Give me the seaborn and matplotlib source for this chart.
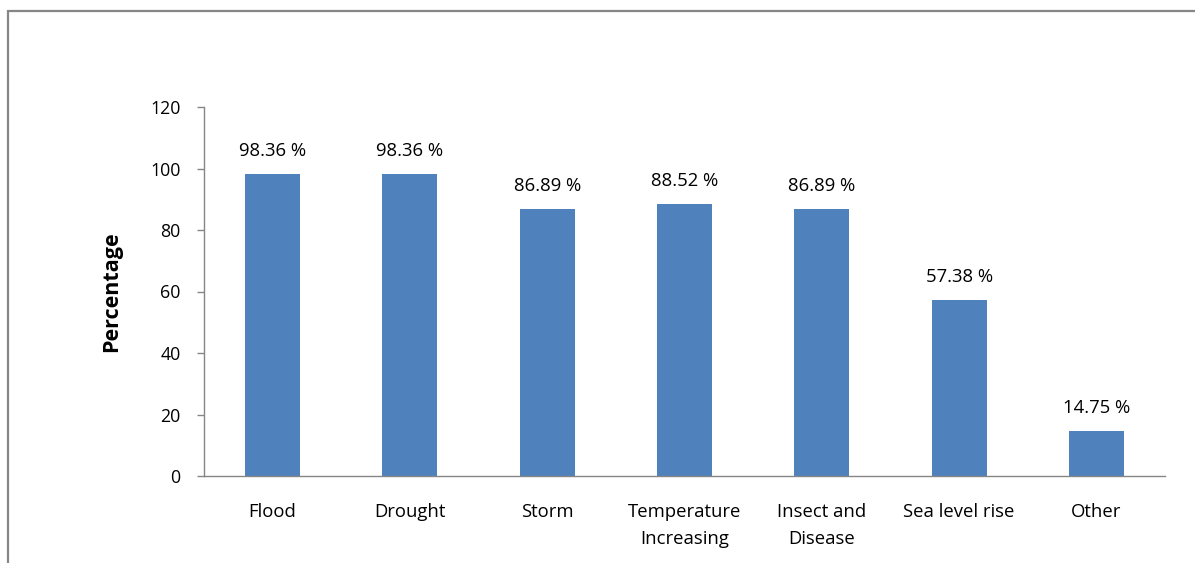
import matplotlib
matplotlib.use("Agg")
import matplotlib.pyplot as plt
from matplotlib.patches import Rectangle
import seaborn as sns
import pandas as pd

categories = ["Flood", "Drought", "Storm", "Temperature\nIncreasing",
              "Insect and\nDisease", "Sea level rise", "Other"]
percentages = [98.36, 98.36, 86.89, 88.52, 86.89, 57.38, 14.75]
y_ticks = [0, 20, 40, 60, 80, 100, 120]

sns.set_style("white")
plt.rcParams["font.family"] = ["Open Sans", "DejaVu Sans"]

gray = "#868686"
bar_color = "#4F81BD"

fig = plt.figure(figsize=(11.95, 5.63), dpi=100)
ax = fig.add_axes([204 / 1195, 1 - 476 / 563, (1165 - 204) / 1195, (476 - 107) / 563])

df = pd.DataFrame({"cause": categories, "pct": percentages})
sns.barplot(data=df, x="cause", y="pct", color=bar_color, width=0.4,
            saturation=1, ax=ax, edgecolor="none")

for i, v in enumerate(percentages):
    ax.annotate(f"{v:.2f} %", (i, v), xytext=(0, 10), textcoords="offset points",
                ha="center", va="bottom", fontsize=13.3, color="black")

ax.set_ylim(0, 120)
ax.set_xlim(-0.5, len(categories) - 0.5)
ax.set_yticks(y_ticks)
ax.set_yticklabels([str(t) for t in y_ticks], fontsize=12.8)
ax.set_xticks(range(len(categories)))
ax.set_xticklabels(categories, fontsize=13.3, linespacing=1.62)
ax.set_xticks([i - 0.5 for i in range(len(categories) + 1)], minor=True)
ax.tick_params(axis="x", which="major", length=0, pad=19.5, labelcolor="black")
ax.tick_params(axis="x", which="minor", length=6, width=1, color=gray, direction="out")
ax.tick_params(axis="y", length=5, width=1, color=gray, direction="out", pad=12,
               left=True, labelcolor="black")
for lbl in ax.get_xticklabels():
    lbl.set_va("top")

ax.set_xlabel("")
ax.set_ylabel("Percentage", fontsize=15.5, fontweight="bold", labelpad=20, color="black")

sns.despine(ax=ax, top=True, right=True)
for side in ("left", "bottom"):
    ax.spines[side].set_color(gray)
    ax.spines[side].set_linewidth(1)

# outer chart frame
fig.patches.append(Rectangle((7.5 / 1195, -0.2), 1.5, 1.2 - 11 / 563,
                             transform=fig.transFigure, fill=False,
                             edgecolor=gray, linewidth=1.6))

fig.savefig("out.png", dpi=100)
